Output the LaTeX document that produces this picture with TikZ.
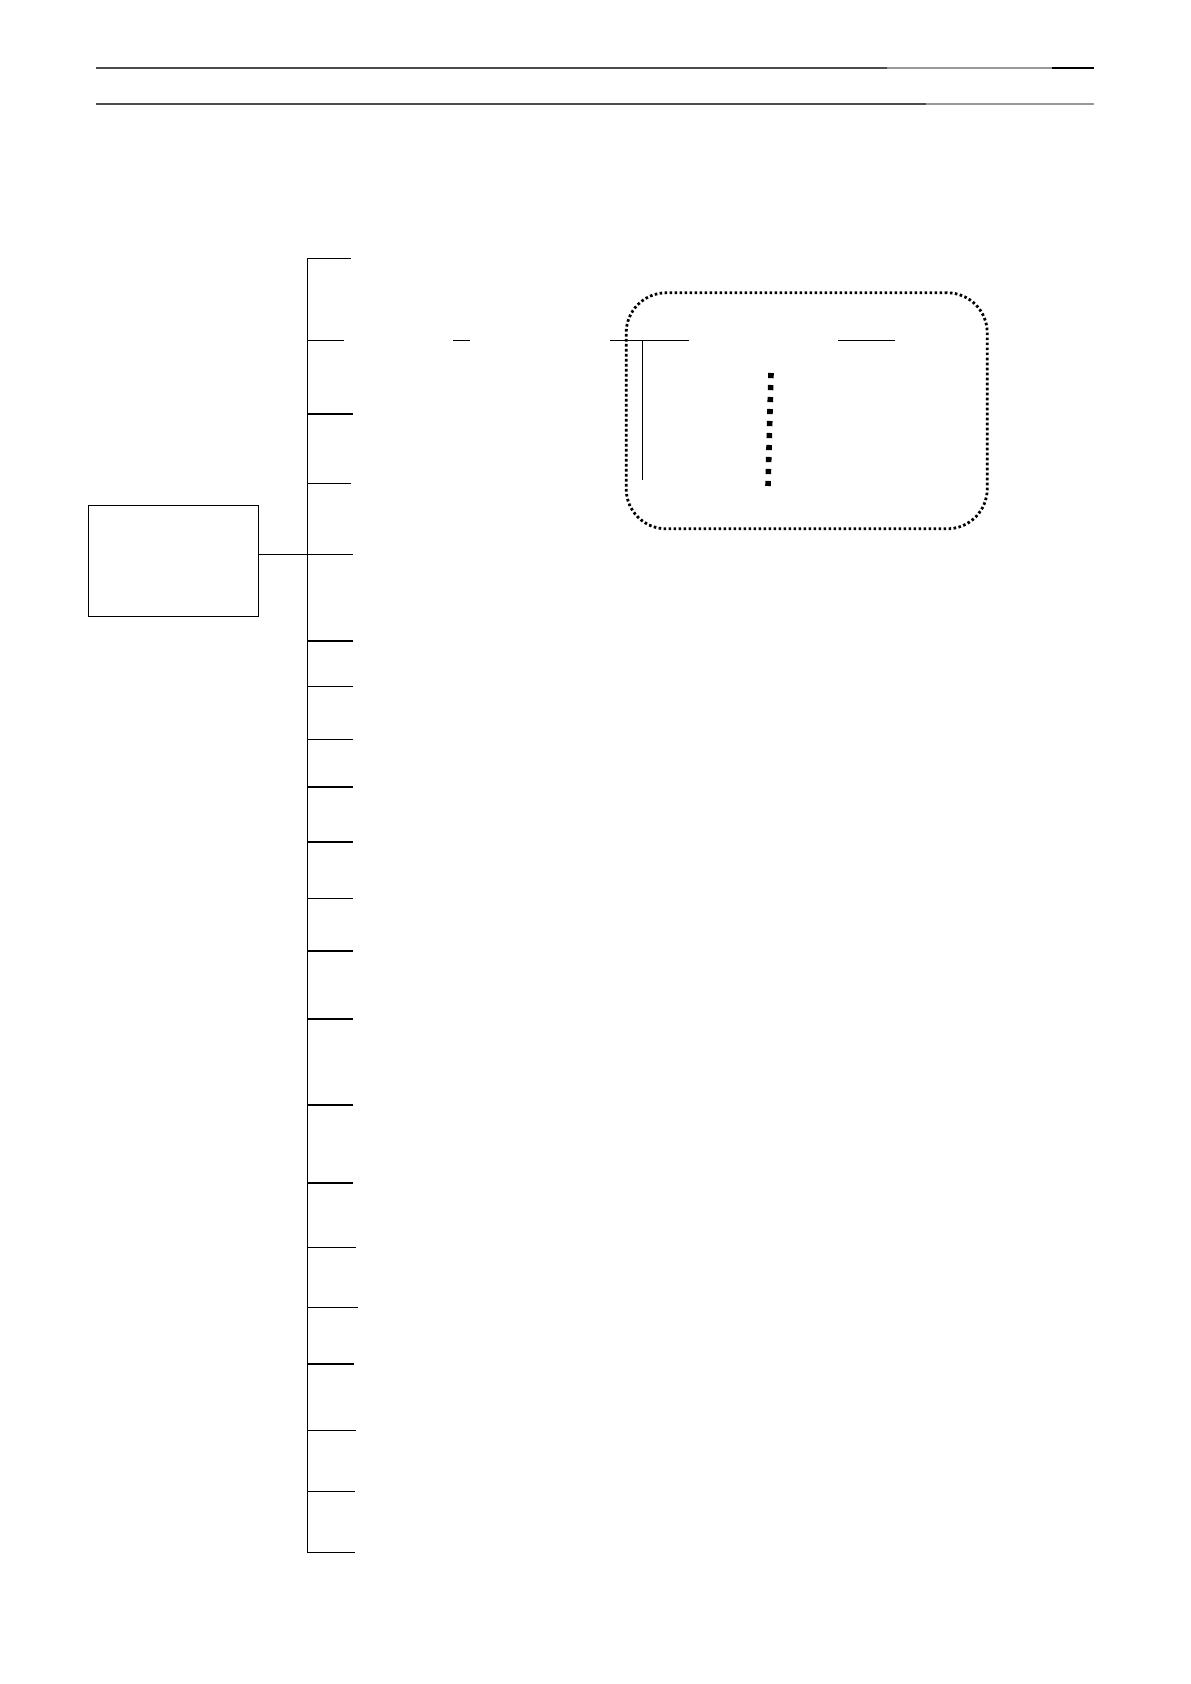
\documentclass[tikz,border=0pt]{standalone}
\usetikzlibrary{positioning}
\tikzstyle{box} = [rectangle, draw, line width=0.6pt, minimum width=85pt, minimum height=55.5pt, inner sep=0pt]
\tikzstyle{frame} = [rectangle, draw, rounded corners=20pt, line width=1.4pt, dash pattern=on 1.3pt off 1.2pt, minimum width=180.5pt, minimum height=118pt, inner sep=0pt]
\tikzstyle{line} = [draw, line width=0.5pt]
\tikzstyle{thickline} = [draw, line width=1.1pt]
\tikzstyle{rule} = [draw, line width=0.6pt, black!70]
\tikzstyle{palerule} = [draw, line width=0.6pt, black!40]
\tikzstyle{dotline} = [draw, line width=2.8pt, dash pattern=on 2.6pt off 3.4pt]

\begin{document}
\begin{tikzpicture}[x=0.5pt, y=-0.5pt]
    \useasboundingbox (0,0) rectangle (1190,1684);

    % header rules
    \coordinate (r1a) at (96,68);
    \coordinate (r1b) at (887,68);
    \coordinate (r1c) at (1052,68);
    \coordinate (r1d) at (1094,68);
    \coordinate (r2a) at (96,104);
    \coordinate (r2b) at (926,104);
    \coordinate (r2c) at (1094,104);
    \path [rule] (r1a) -- (r1b);
    \path [palerule] (r1b) -- (r1c);
    \path [draw, line width=0.8pt] (r1c) -- (r1d);
    \path [rule] (r2a) -- (r2b);
    \path [palerule] (r2b) -- (r2c);

    % root box and spine
    \node [box] (root) at (173.7,560.8) {};
    \coordinate (top) at (307,259);
    \coordinate (bottom) at (307,1552);
    \path [line] (top) -- (bottom);

    % branches
    \foreach \n/\y/\e/\st in {1/259/351/line, 2/341/344/line, 3/414/353/thickline,
        4/483/351/line, 5/554/353/line, 6/641/353/thickline, 7/686/353/line,
        8/739/353/line, 9/787/353/thickline, 10/842/353/thickline, 11/898/353/line,
        12/951/353/thickline, 13/1019/353/thickline, 14/1105/353/thickline,
        15/1183/353/thickline, 16/1247/356/line, 17/1307/358/line,
        18/1364/354/thickline, 19/1430/356/line, 20/1491/355/line, 21/1552/355/line} {
        \coordinate (b\n) at (\e,\y);
        \path [\st] (top |- b\n) -- (b\n);
    }
    \path [line] (root.east |- b5) -- (top |- b5);

    % dotted group
    \node [frame] (group) at (806.7,410.8) {};
    \coordinate (s1a) at (453,341);
    \coordinate (s1b) at (470,341);
    \coordinate (s2a) at (610,341);
    \coordinate (s2b) at (689,341);
    \coordinate (s3a) at (642,341);
    \coordinate (s3b) at (642,480);
    \coordinate (s4a) at (838,341);
    \coordinate (s4b) at (895,341);
    \coordinate (d1) at (771,373);
    \coordinate (d2) at (768,486);
    \path [line] (s1a) -- (s1b);
    \path [line] (s2a) -- (s2b);
    \path [line] (s3a) -- (s3b);
    \path [line] (s4a) -- (s4b);
    \path [dotline] (d1) -- (d2);

\end{tikzpicture}
\end{document}
